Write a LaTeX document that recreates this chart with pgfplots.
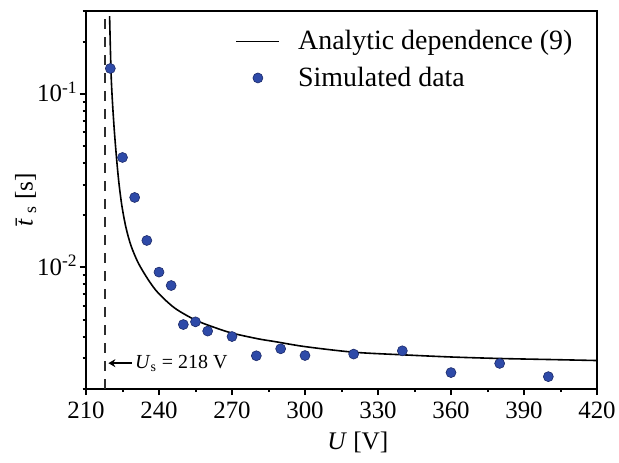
\documentclass[border=0pt]{standalone}
\usepackage{fontspec}
\setmainfont{Liberation Serif}
\usepackage{pgfplots}
\pgfplotsset{compat=1.18}
\usetikzlibrary{arrows.meta}
\definecolor{dotblue}{RGB}{46,74,168}
\definecolor{dotedge}{RGB}{28,42,105}
\definecolor{usline}{RGB}{45,45,45}
\pgfplotsset{
  legline/.style={legend image code/.code={\draw[##1] (0bp,0bp) -- (21.5bp,0bp);
    \path (28.5bp,0bp);}},
  legdot/.style={legend image code/.code={\draw[##1] plot coordinates {(10.75bp,0bp)};
    \path (0bp,0bp) (28.5bp,0bp);}},
}

\begin{document}
\begin{tikzpicture}
\begin{axis}[
  scale only axis,
  width=255.5bp, height=188.9bp,
  xmin=210, xmax=420,
  ymin=0.002, ymax=0.3,
  ymode=log,
  axis line style={line width=1.1bp},
  tick pos=left, tick align=outside,
  major tick length=3.2bp, minor tick length=1.7bp,
  every tick/.style={black, line width=1bp},
  xtick={210,240,...,420},
  minor xtick={225,255,...,405},
  ytick={0.01,0.1},
  yticklabels={10\textsuperscript{-2},10\textsuperscript{-1}},
  minor ytick={0.002,0.003,0.004,0.005,0.006,0.007,0.008,0.009,0.02,0.03,0.04,0.05,0.06,0.07,0.08,0.09,0.2,0.3},
  /pgf/number format/assume math mode=true,
  /pgf/number format/1000 sep={},
  tick label style={font=\fontsize{12.5}{14}\selectfont},
  yticklabel style={xshift=2.5bp, yshift=1bp},
  xlabel={\textit{U} [V]},
  label style={font=\fontsize{12.7}{15}\selectfont},
  x label style={at={(axis description cs:0.532,0)}, anchor=base, yshift=-30.2bp},
  legend style={draw=none, fill=none, at={(0.292,0.96)}, anchor=north west,
    font=\fontsize{14}{17}\selectfont, inner sep=0pt, row sep=3pt},
  legend cell align=left,
]
\addplot[black, line width=0.8bp, smooth, legline]
  coordinates {
  (219.7,0.28) (220.03,0.180) (220.4,0.121) (220.93,0.0868) (221.67,0.0606)
  (222.6,0.0418) (223.56,0.0304) (224.8,0.0224) (226.44,0.01694) (228.5,0.01334)
  (231.5,0.0106) (235.6,0.00849)
  (239.7,0.00712) (246.5,0.00583) (254.8,0.00499) (261.7,0.00457)
  (269.9,0.00419) (280.8,0.00388) (287.7,0.00374) (300,0.0035)
  (320,0.00325) (340,0.00314) (360,0.00305) (380,0.00299)
  (400,0.00295) (420,0.00291)
  };
\addlegendentry{Analytic dependence (9)}
\addplot[only marks, mark=*, mark size=2.5bp,
  mark options={fill=dotblue, draw=dotedge, line width=0.3bp}, legdot]
  coordinates {
  (220,0.14) (225,0.043) (230,0.0253) (235,0.0143) (240,0.0094)
  (245,0.00787) (250,0.00469) (255,0.00486) (260,0.0043) (270,0.0040)
  (280,0.0031) (290,0.0034) (300,0.00311) (320,0.00317) (340,0.00331)
  (360,0.00248) (380,0.0028) (400,0.00235)
  };
\addlegendentry{Simulated data}
\addplot[usline, line width=1bp, dash pattern=on 5bp off 4bp, forget plot]
  coordinates {(218,0.002) (218,0.3)};
\draw[-{Stealth[length=3.5bp, width=4bp]}, line width=0.9bp]
  (axis cs:228.7,0.00281) -- (axis cs:219.2,0.00281);
\node[anchor=base west, inner sep=0pt, font=\fontsize{10}{12}\selectfont]
  at (axis cs:230,0.00261) {\textit{U}\textsubscript{s} = 218 V};
\end{axis}
\node[rotate=90, anchor=base, inner sep=0pt, font=\fontsize{12.7}{15}\selectfont]
  at (-26.7bp,94.45bp) {\textit{\=t}\textsubscript{s} [s]};
\pgfresetboundingbox
\useasboundingbox (-43bp,-36.65bp) rectangle (266.5bp,194.4bp);
\end{tikzpicture}
\end{document}
